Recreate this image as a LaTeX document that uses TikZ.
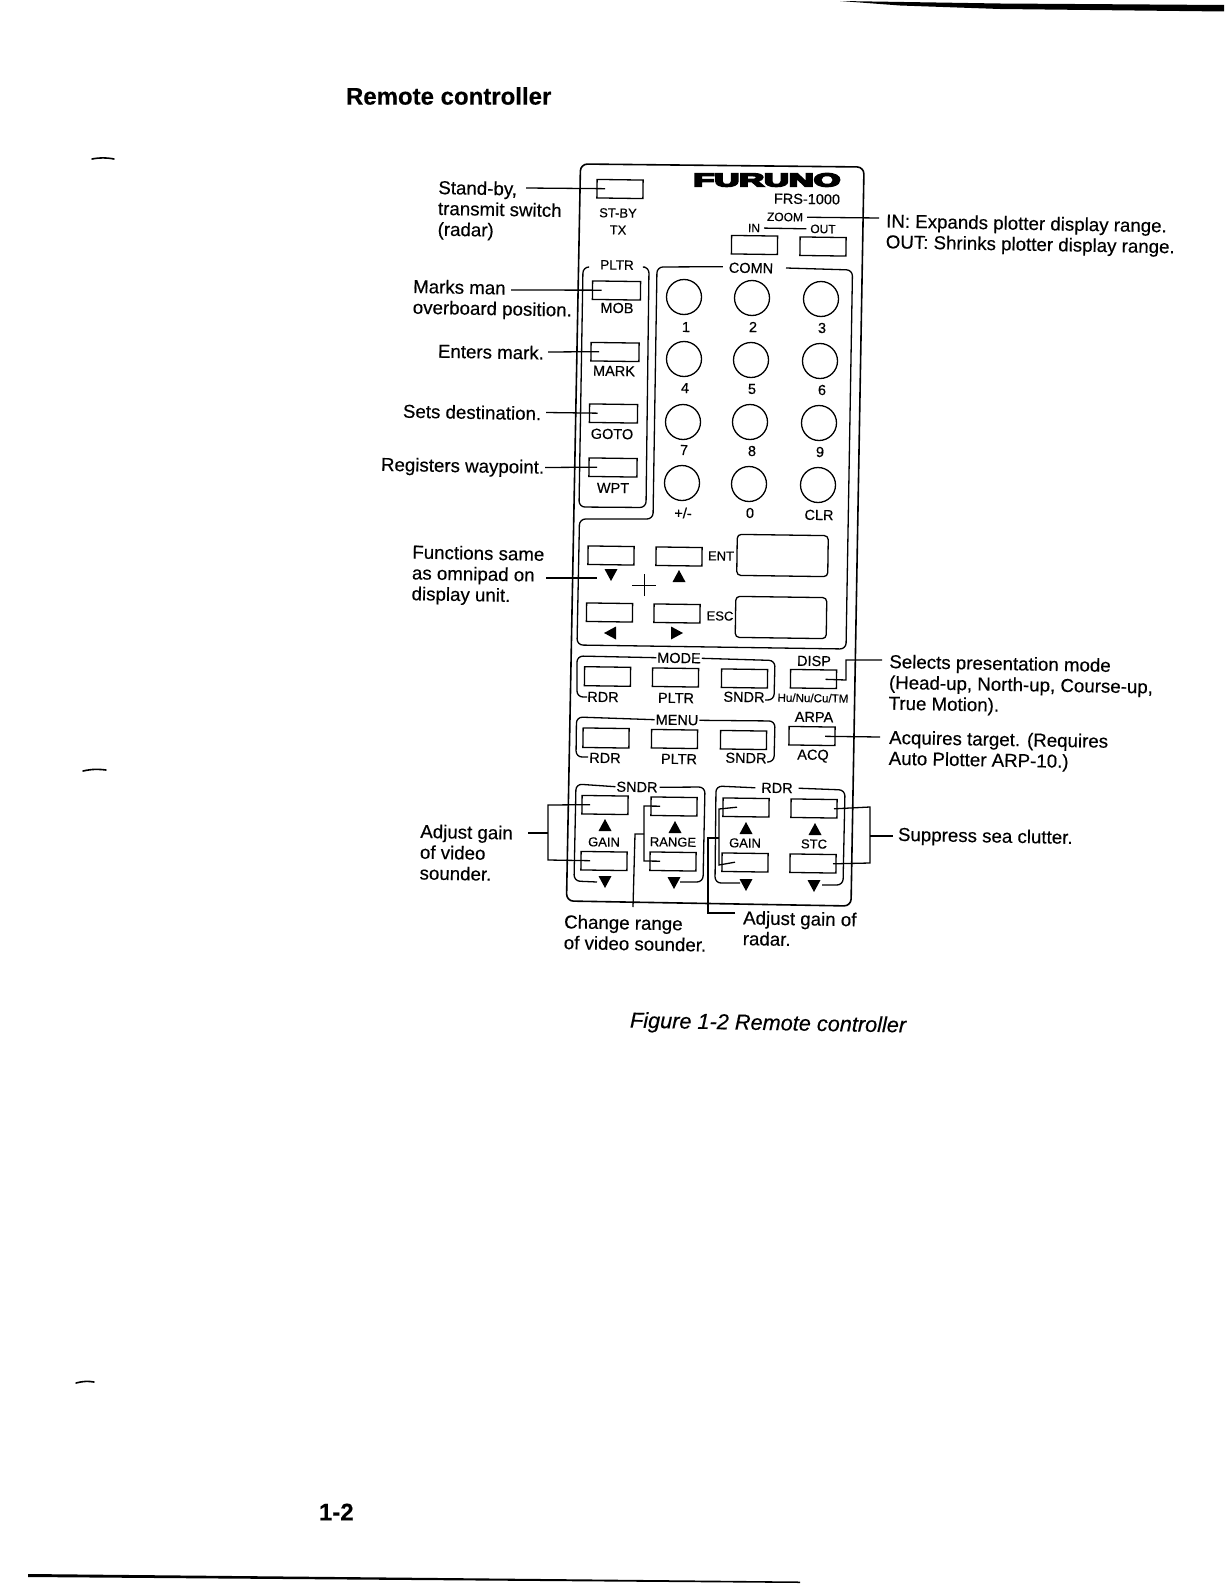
\documentclass[tikz,border=0pt]{standalone}
\usepackage{fontspec}
\usepackage{graphicx}
\setmainfont{Liberation Sans}[FakeBold=0.35]
\newfontfamily\furfont[FakeBold=8]{Liberation Sans Bold}
\tikzset{
  x=1pt,y=-1pt,
  every node/.style={inner sep=0pt,outer sep=0pt,text=black},
  callout/.style={font=\fontsize{18.7}{20.8}\selectfont,align=left,anchor=west,rotate=-1},
  keylab/.style={font=\fontsize{14.5}{16}\selectfont,rotate=-0.8},
  smalllab/.style={font=\fontsize{13}{15}\selectfont,rotate=-0.8},
  tinylab/.style={font=\fontsize{12}{14}\selectfont,rotate=-0.8},
  btn/.style={draw=black,line width=1.3pt,rectangle,minimum width=46pt,minimum height=18.5pt,rotate=-0.8},
  padbox/.style={draw=black,line width=1.3pt,rectangle,rounded corners=4pt,minimum width=91pt,minimum height=41pt,rotate=-0.8},
  numkey/.style={draw=black,line width=1.3pt,circle,minimum size=35pt},
  frameline/.style={draw=black,line width=1.3pt,rounded corners=6pt},
  leader/.style={draw=black,line width=1.3pt},
  tridown/.pic={\fill[black] (-6.5,-6)--(6.5,-6)--(0,6)--cycle;},
  triup/.pic={\fill[black] (-6.5,6)--(6.5,6)--(0,-6)--cycle;},
  trileft/.pic={\fill[black] (6,-6.5)--(6,6.5)--(-6,0)--cycle;},
  triright/.pic={\fill[black] (-6,-6.5)--(-6,6.5)--(6,0)--cycle;},
}
\begin{document}
\begin{tikzpicture}
\useasboundingbox (0,0) rectangle (1224,1584);
% page scan marks
\fill[black] (840,1) -- (1000,3.5) -- (1224,5) -- (1224,11.5) -- (1000,9) -- (900,5.5) -- cycle;
\fill[black] (28,1574) -- (800,1581.5) -- (800,1583) -- (28,1577) -- cycle;
\draw[line width=1.6pt,line cap=round] (92,159) .. controls (100,157.5) and (106,157.5) .. (114,159);
\draw[line width=1.6pt,line cap=round] (83,771) .. controls (92,769) and (98,769) .. (106,770);
\draw[line width=1.6pt,line cap=round] (76,1383) .. controls (84,1381) and (88,1381) .. (94,1382);
% headings
\node[font=\bfseries\fontsize{24}{26}\selectfont,anchor=west] (title) at (346,96) {Remote controller};
\node[font=\itshape\fontsize{21.7}{24}\selectfont,anchor=west,rotate=-1] (caption) at (630,1022) {Figure 1-2 Remote controller};
\node[font=\bfseries\fontsize{24}{26}\selectfont,anchor=west] (pageno) at (319,1512) {1-2};
% controller body
\draw[draw=black,line width=1.6pt,rounded corners=7pt] (580.5,164) -- (864,167) -- (851,906) -- (566.5,901) -- cycle;
\node (furuno) at (767,180) {\resizebox{147pt}{13pt}{\furfont FURUNO}};
\node[keylab] (frs) at (807,199) {FRS-1000};
\node[tinylab] (zoomlab) at (785,217) {ZOOM};
\node[tinylab] (inlab) at (754,228) {IN};
\node[tinylab] (outlab) at (823,229) {OUT};
\node[btn] (bIn) at (754.5,245) {};
\node[btn] (bOut) at (823,246.5) {};
\draw[leader] ([xshift=4pt]inlab.east) -- ([xshift=-4pt]outlab.west);
% stand-by
\node[btn] (bStby) at (620,189) {};
\node[smalllab] (lStby) at (618,213) {ST-BY};
\node[smalllab] (lTx) at (618,230) {TX};
% PLTR
\node[keylab,font=\fontsize{13.5}{15}\selectfont] (lPltr) at (617,265) {PLTR};
\draw[frameline] (588,267) -- (583,267) -- (579,507) -- (646,507.5) -- (649,267) -- (645,267);
\node[btn,minimum width=48pt] (bMob) at (616.5,290.5) {};
\node[btn,minimum width=48pt] (bMark) at (615,352) {};
\node[btn,minimum width=48pt] (bGoto) at (613.5,413.5) {};
\node[btn,minimum width=48pt] (bWpt) at (613,467.5) {};
\node[keylab] (lMob) at (617,308) {MOB};
\node[keylab] (lMark) at (614,371) {MARK};
\node[keylab] (lGoto) at (612,434) {GOTO};
\node[keylab] (lWpt) at (613,488) {WPT};
% COMN frame + omnipad frame
\node[keylab] (lComn) at (751,268) {COMN};
\draw[frameline] (lComn.west) ++(-6,-1) -- (657,267) -- (653,519) -- (579.5,519) -- (577,645) -- (846,649) -- (852.5,270) -- (786,268);
% number keys
\foreach \nm/\cx/\cy/\lx/\ly/\tx in {k1/684/297/686/327/1,k2/752/298/753/327/2,k3/821/299/822/328/3,
  k4/684/359/685/388/4,k5/751/360/752/389/5,k6/820/361/822/390/6,
  k7/683/422/684/450/7,k8/750/422/752/451/8,k9/819/423/820/452/9,
  kpm/682/483/683/513/{+/-},k0/749/484/750/513/0,kclr/818/485/819/515/CLR}{
  \node[numkey] (\nm) at (\cx,\cy) {};
  \node[keylab] (l\nm) at (\lx,\ly) {\tx};
}
% omnipad
\node[btn] (bUpL) at (611,555.5) {};
\node[btn] (bUpR) at (679,556.5) {};
\node[btn] (bDnL) at (609.5,612.5) {};
\node[btn] (bDnR) at (677,613.5) {};
\pic at (611,575) {tridown};
\pic at (679,576) {triup};
\pic at (610,633) {trileft};
\pic at (677,633) {triright};
\node[padbox] (ent) at (782.5,555.5) {};
\node[padbox] (esc) at (781,617.5) {};
\node[smalllab] (lEnt) at (721,556) {ENT};
\node[smalllab] (lEsc) at (720,616) {ESC};
\coordinate (padc) at (644,585);
\draw[line width=0.8pt] ([xshift=-12pt]padc) -- ([xshift=12pt]padc) ([yshift=-11pt]padc) -- ([yshift=11pt]padc);
% MODE
\node[keylab] (lMode) at (679,658) {MODE};
\draw[frameline] ([xshift=-1pt]lMode.west) -- (577,656) -- (577,697) -- (587,697);
\draw[frameline] ([xshift=1pt]lMode.east) -- (775,660.5) -- (774,700) -- (765,700);
\node[btn,minimum height=19pt] (bModeR) at (607.5,676.5) {};
\node[btn] (bModeP) at (675.5,677.5) {};
\node[btn] (bModeS) at (744.5,678.5) {};
\node[keylab] (lModeR) at (603,697) {RDR};
\node[keylab] (lModeP) at (676,698) {PLTR};
\node[keylab] (lModeS) at (744,697) {SNDR};
\node[keylab] (lDisp) at (814,661) {DISP};
\node[btn] (bDisp) at (813.5,679) {};
\node[font=\fontsize{11.6}{13}\selectfont,rotate=-0.8] (lHu) at (813,698) {Hu/Nu/Cu/TM};
% MENU
\node[keylab] (lMenu) at (677,720) {MENU};
\draw[frameline] ([xshift=-1pt]lMenu.west) -- (576.5,717) -- (576,757) -- (588,757);
\draw[frameline] ([xshift=1pt]lMenu.east) -- (775,721) -- (774,762) -- (767,762);
\node[btn,minimum height=19.5pt] (bMenuR) at (606,738) {};
\node[btn] (bMenuP) at (674.5,739) {};
\node[btn] (bMenuS) at (743.5,740) {};
\node[keylab] (lMenuR) at (605,758) {RDR};
\node[keylab] (lMenuP) at (679,759) {PLTR};
\node[keylab] (lMenuS) at (746,758) {SNDR};
\node[keylab] (lArpa) at (814,717) {ARPA};
\node[btn] (bAcq) at (812,736) {};
\node[keylab] (lAcq) at (813,756) {ACQ};
% SNDR block
\node[keylab] (lSndr) at (637,787) {SNDR};
\draw[frameline] ([xshift=-1pt]lSndr.west) -- (576,784) -- (574,881) -- (597,882);
\draw[frameline] ([xshift=2pt]lSndr.east) -- (705,787) -- (703,882) -- (680,882);
\node[btn] (bS1) at (605,805) {};
\node[btn] (bS2) at (674,806.5) {};
\node[btn] (bS3) at (604,861) {};
\node[btn] (bS4) at (673,861.5) {};
\pic at (605,825) {triup};
\pic at (675,827) {triup};
\pic at (605,882) {tridown};
\pic at (674,883) {tridown};
\node[smalllab] (lGainS) at (604,842) {GAIN};
\node[smalllab] (lRange) at (673,842) {RANGE};
% RDR block
\node[keylab] (lRdr) at (777,788) {RDR};
\draw[frameline] ([xshift=-6pt]lRdr.west) -- (716,786) -- (715,883) -- (740,883);
\draw[frameline] ([xshift=6pt]lRdr.east) -- (845,790) -- (843,885) -- (822,885);
\node[btn] (bR1) at (746,807.5) {};
\node[btn] (bR2) at (814,808.5) {};
\node[btn] (bR3) at (745,862.5) {};
\node[btn] (bR4) at (813,863.5) {};
\pic at (746,828) {triup};
\pic at (815,829) {triup};
\pic at (746,885) {tridown};
\pic at (814,886) {tridown};
\node[smalllab] (lGainR) at (745,843) {GAIN};
\node[smalllab] (lStc) at (814,844) {STC};
% callouts left
\node[callout] (tStand) at (438,210) {Stand-by,\\transmit switch\\(radar)};
\node[callout] (tMarks) at (413,298.5) {Marks man\\overboard position.};
\node[callout] (tEnters) at (438,351) {Enters mark.};
\node[callout] (tSets) at (403,411) {Sets destination.};
\node[callout] (tRegs) at (381,466) {Registers waypoint.};
\node[callout] (tFunc) at (412,574.5) {Functions same\\as omnipad on\\display unit.};
\node[callout] (tAdjS) at (420,852) {Adjust gain\\of video\\sounder.};
\node[callout] (tChange) at (564,932) {Change range\\of video sounder.};
\node[callout] (tAdjR) at (743,928) {Adjust gain of\\radar.};
% callouts right
\node[callout] (tInOut) at (886,233) {IN: Expands plotter display range.\\OUT: Shrinks plotter display range.};
\node[callout] (tSelects) at (889,684) {Selects presentation mode\\(Head-up, North-up, Course-up,\\True Motion).};
\node[callout] (tAcq) at (889,749.5) {Acquires target. (Requires\\Auto Plotter ARP-10.)};
\node[callout] (tSupp) at (898,836) {Suppress sea clutter.};
% leader free ends
\coordinate (sStand) at (526,188);
\coordinate (sMob) at (511,290);
\coordinate (sEnters) at (548,352);
\coordinate (sSets) at (546,412.5);
\coordinate (sRegs) at (545,467.5);
\coordinate (sZoom) at (879,218);
\coordinate (sDisp) at (882,660);
\coordinate (sAcq) at (880,737);
\coordinate (jDisp1) at (846,680);
\coordinate (jDisp2) at (846,660);
\coordinate (sFunc) at (546,578);
\coordinate (eFunc) at (597,578);
\coordinate (sAdjS) at (528,833);
\coordinate (jAdjS) at (548,833);
\coordinate (jAdjS1) at (548,805);
\coordinate (jAdjS2) at (548,860);
\coordinate (sChange) at (633,907);
\coordinate (jChange) at (635,834);
\coordinate (jChange0) at (644,834);
\coordinate (jChange1) at (644,806);
\coordinate (jChange2) at (644,861);
\coordinate (sAdjR) at (735,913);
\coordinate (jAdjR0) at (708,913);
\coordinate (jAdjR) at (708,838);
\coordinate (jAdjR1) at (719,838);
\coordinate (jAdjR2) at (719,809);
\coordinate (jAdjR3) at (719,865);
\coordinate (jStc1) at (870,807);
\coordinate (jStc2) at (870,863);
\coordinate (jStc0) at (870,836);
\coordinate (sStc) at (893,836);
% leaders
\draw[leader] (sStand) -- ([xshift=8pt]bStby.west);
\draw[leader] (sMob) -- ([xshift=9pt]bMob.west);
\draw[leader] (sEnters) -- ([xshift=8pt]bMark.west);
\draw[leader] (sSets) -- ([xshift=8pt]bGoto.west);
\draw[leader] (sRegs) -- ([xshift=8pt]bWpt.west);
\draw[leader] (sFunc) -- (eFunc);
\draw[leader] (zoomlab.east) ++(4,0) -- (sZoom);
\draw[leader] ([xshift=-11pt]bDisp.east) -- (jDisp1) -- (jDisp2) -- (sDisp);
\draw[leader] ([xshift=-10pt]bAcq.east) -- (sAcq);
\draw[leader] (sAdjS) -- (jAdjS);
\draw[leader] ([xshift=8pt]bS1.west) -- (jAdjS1) -- (jAdjS2) -- ([xshift=9pt]bS3.west);
\draw[leader] (sChange) -- (jChange) -- (jChange0);
\draw[leader] ([xshift=9pt]bS2.west) -- (jChange1) -- (jChange2) -- ([xshift=10pt]bS4.west);
\draw[leader] (sAdjR) -- (jAdjR0) -- (jAdjR) -- (jAdjR1);
\draw[leader] ([xshift=14pt]bR1.west) -- (jAdjR2) -- (jAdjR3) -- ([xshift=13pt]bR3.west);
\draw[leader] ([xshift=-3pt]bR2.east) -- (jStc1) -- (jStc2) -- ([xshift=-3pt]bR4.east);
\draw[leader] (jStc0) -- (sStc);
\end{tikzpicture}
\end{document}
